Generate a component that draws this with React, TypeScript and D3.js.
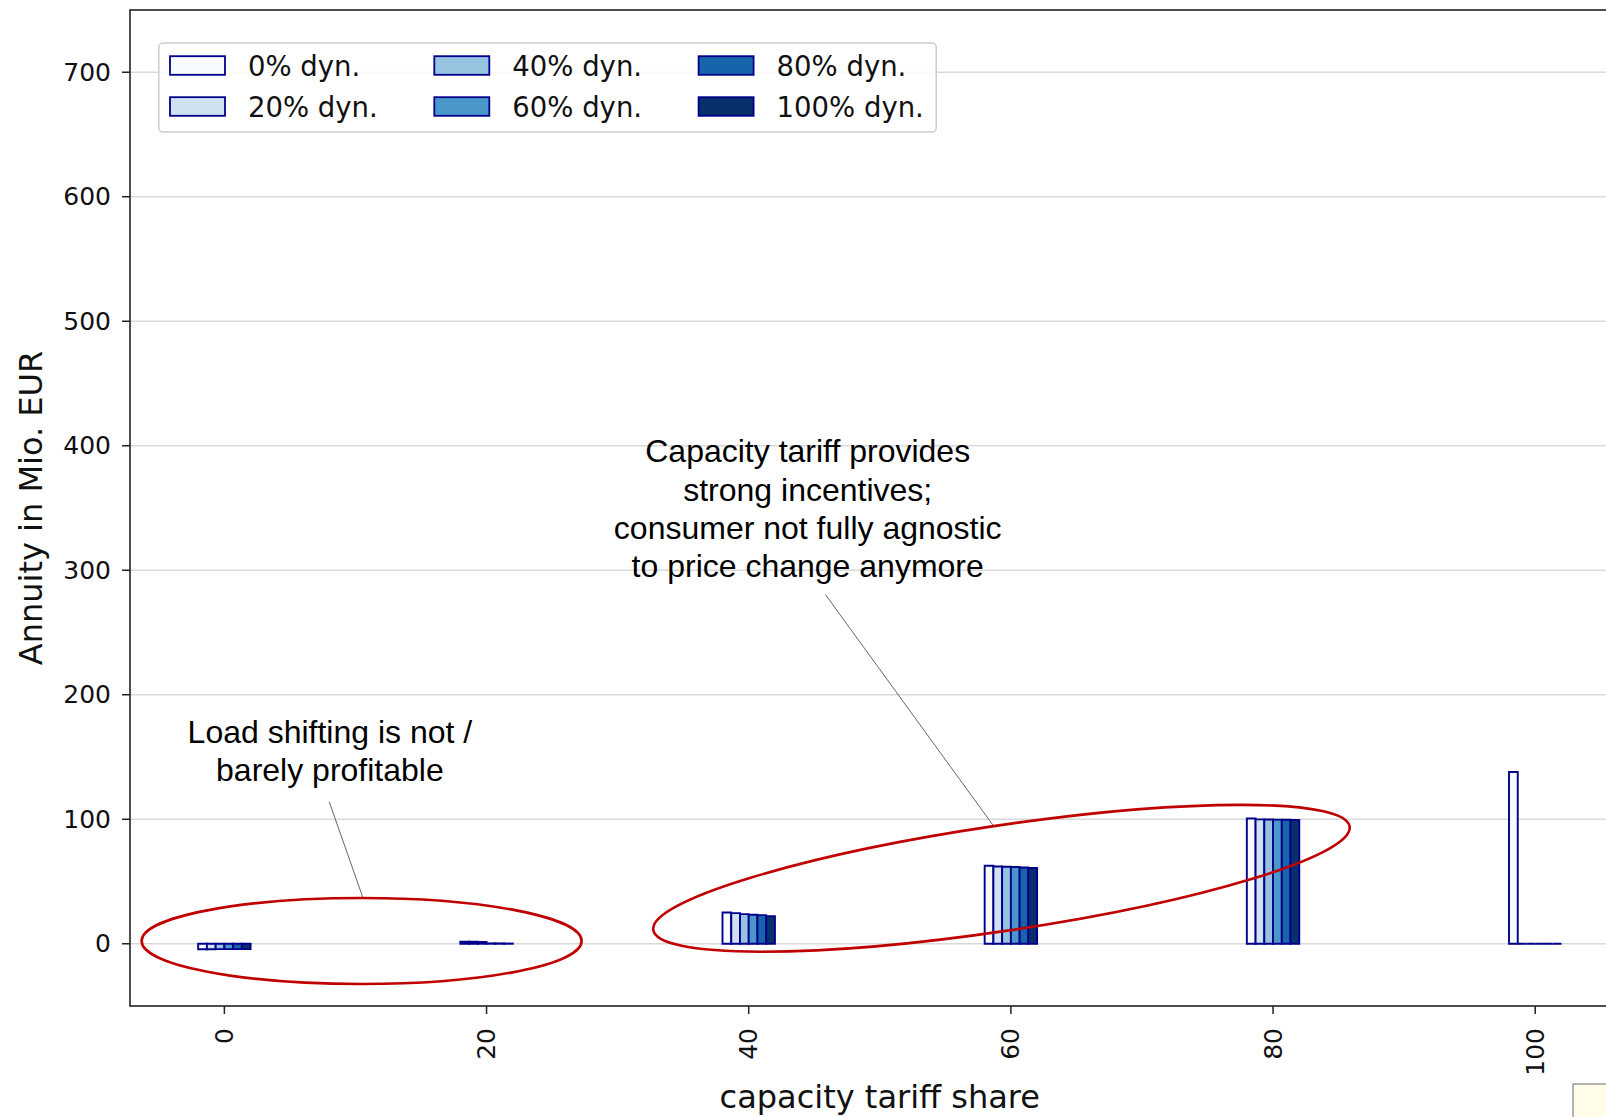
import React from 'react';
import * as d3 from 'd3';

// capacity tariff share (x) and one value array per dynamic share
const categories = [0, 20, 40, 60, 80, 100];
const seriesNames = ['0% dyn.', '20% dyn.', '40% dyn.', '60% dyn.', '80% dyn.', '100% dyn.'];
const seriesColors = ['#f7fbff', '#d0e1f2', '#94c4df', '#4a98c9', '#1764ab', '#08306b'];
const dyn0 = [-4.4, 1.6, 25.1, 62.6, 100.6, 138];
const dyn20 = [-4.4, 1.6, 24.6, 62.1, 99.9, 0];
const dyn40 = [-4.3, 1.4, 23.8, 61.9, 99.8, 0];
const dyn60 = [-4.3, 0.3, 23.3, 61.6, 99.7, 0];
const dyn80 = [-4.3, 0.3, 23.0, 61.3, 99.6, 0];
const dyn100 = [-4.2, 0.2, 22.2, 60.8, 99.5, 0];
const seriesValues = [dyn0, dyn20, dyn40, dyn60, dyn80, dyn100];
const yTicks = [0, 100, 200, 300, 400, 500, 600, 700];

const noteLeft = ['Load shifting is not /', 'barely profitable'];
const noteRight = [
  'Capacity tariff provides',
  'strong incentives;',
  'consumer not fully agnostic',
  'to price change anymore',
];

const W = 1606;
const H = 1117;
const plot = { left: 130, top: 10, right: 1629.6, bottom: 1006 };
const edge = '#00008b';
const red = '#c00000';

function App() {
  const x = d3.scaleLinear().domain([-7.2, 107.2]).range([plot.left, plot.right]);
  const y = d3.scaleLinear().domain([-50, 750]).range([plot.bottom, plot.top]);
  const groupWidth = 4;
  const barW = groupWidth / seriesValues.length;

  const bars: any[] = [];
  seriesValues.forEach((vals, s) => {
    vals.forEach((v, i) => {
      const x0 = x(categories[i] - groupWidth / 2 + s * barW);
      const x1 = x(categories[i] - groupWidth / 2 + (s + 1) * barW);
      const y0 = y(0);
      const y1 = y(v);
      bars.push(
        <path
          key={`${s}-${i}`}
          d={`M${x0},${y0}H${x1}V${y1}H${x0}Z`}
          fill={seriesColors[s]}
          stroke={edge}
          strokeWidth={1.9}
        />
      );
    });
  });

  // annotation anchors in data units
  const e1 = { cx: x(10.47), cy: y(2.2), rx: 220, ry: 43 };
  const e2 = { cx: x(59.28), cy: y(52.6), rx: 352, ry: 52.7, angle: -8.45 };

  return (
    <div style={{ position: 'absolute', left: 0, top: 0 }}>
      <svg width={W} height={H} style={{ display: 'block', background: '#fff' }}>
        {/* grid */}
        {yTicks.map((t) => (
          <line key={t} x1={plot.left} x2={plot.right} y1={y(t)} y2={y(t)} stroke="#d9d9d9" strokeWidth={1.5} />
        ))}

        {bars}

        {/* spines */}
        <rect
          x={plot.left}
          y={plot.top}
          width={plot.right - plot.left}
          height={plot.bottom - plot.top}
          fill="none"
          stroke="#222"
          strokeWidth={1.6}
        />

        {/* y axis */}
        {yTicks.map((t) => (
          <g key={t}>
            <line x1={plot.left - 8} x2={plot.left} y1={y(t)} y2={y(t)} stroke="#222" strokeWidth={1.5} />
            <text
              x={plot.left - 19}
              y={y(t)}
              textAnchor="end"
              dominantBaseline="central"
              fontFamily="DejaVu Sans"
              fontSize={25}
              fill="#111"
            >
              {t}
            </text>
          </g>
        ))}
        <text
          transform={`translate(42,${(plot.top + plot.bottom) / 2}) rotate(-90)`}
          textAnchor="middle"
          fontFamily="DejaVu Sans"
          fontSize={32}
          fill="#111"
        >
          Annuity in Mio. EUR
        </text>

        {/* x axis */}
        {categories.map((c) => (
          <g key={c}>
            <line x1={x(c)} x2={x(c)} y1={plot.bottom} y2={plot.bottom + 8} stroke="#222" strokeWidth={1.5} />
            <text
              transform={`translate(${x(c)},${plot.bottom + 22}) rotate(-90)`}
              textAnchor="end"
              dominantBaseline="central"
              fontFamily="DejaVu Sans"
              fontSize={25}
              fill="#111"
            >
              {c}
            </text>
          </g>
        ))}
        <text
          x={(plot.left + plot.right) / 2}
          y={1108}
          textAnchor="middle"
          fontFamily="DejaVu Sans"
          fontSize={32}
          fill="#111"
        >
          capacity tariff share
        </text>

        {/* legend */}
        <rect x={158.8} y={43} width={777.4} height={89} rx={4} fill="#fff" fillOpacity={0.85} stroke="#cccccc" strokeWidth={1.5} />
        {seriesNames.map((name, i) => {
          const col = Math.floor(i / 2);
          const row = i % 2;
          const lx = 170 + col * 264.3;
          const ly = 65.5 + row * 41;
          return (
            <g key={name}>
              <rect x={lx} y={ly - 9.3} width={55} height={18.6} fill={seriesColors[i]} stroke={edge} strokeWidth={1.8} />
              <text
                x={lx + 78}
                y={ly}
                dominantBaseline="central"
                fontFamily="DejaVu Sans"
                fontSize={27.5}
                fill="#111"
              >
                {name}
              </text>
            </g>
          );
        })}

        {/* annotations */}
        <line x1={x(8.0)} y1={y(114)} x2={x(10.55)} y2={y(37.5)} stroke="#666" strokeWidth={1} />
        <line x1={x(45.85)} y1={y(280.5)} x2={x(58.67)} y2={y(94.7)} stroke="#666" strokeWidth={1} />
        <ellipse cx={e1.cx} cy={e1.cy} rx={e1.rx} ry={e1.ry} fill="none" stroke={red} strokeWidth={2.6} />
        <ellipse
          cx={e2.cx}
          cy={e2.cy}
          rx={e2.rx}
          ry={e2.ry}
          transform={`rotate(${e2.angle} ${e2.cx} ${e2.cy})`}
          fill="none"
          stroke={red}
          strokeWidth={2.6}
        />
        {noteLeft.map((s, i) => (
          <text
            key={s}
            x={x(8.05)}
            y={y(161.5) + i * 38.2}
            textAnchor="middle"
            fontFamily="Liberation Sans, Arial, sans-serif"
            fontSize={32}
            fill="#000"
          >
            {s}
          </text>
        ))}
        {noteRight.map((s, i) => (
          <text
            key={s}
            x={x(44.5)}
            y={y(386.6) + i * 38.2}
            textAnchor="middle"
            fontFamily="Liberation Sans, Arial, sans-serif"
            fontSize={32}
            fill="#000"
          >
            {s}
          </text>
        ))}

        {/* cut-off text box at the corner */}
        <rect x={1573} y={1084} width={100} height={100} fill="#fffce8" stroke="#999" strokeWidth={1.5} />
      </svg>
    </div>
  );
}

export default App;
